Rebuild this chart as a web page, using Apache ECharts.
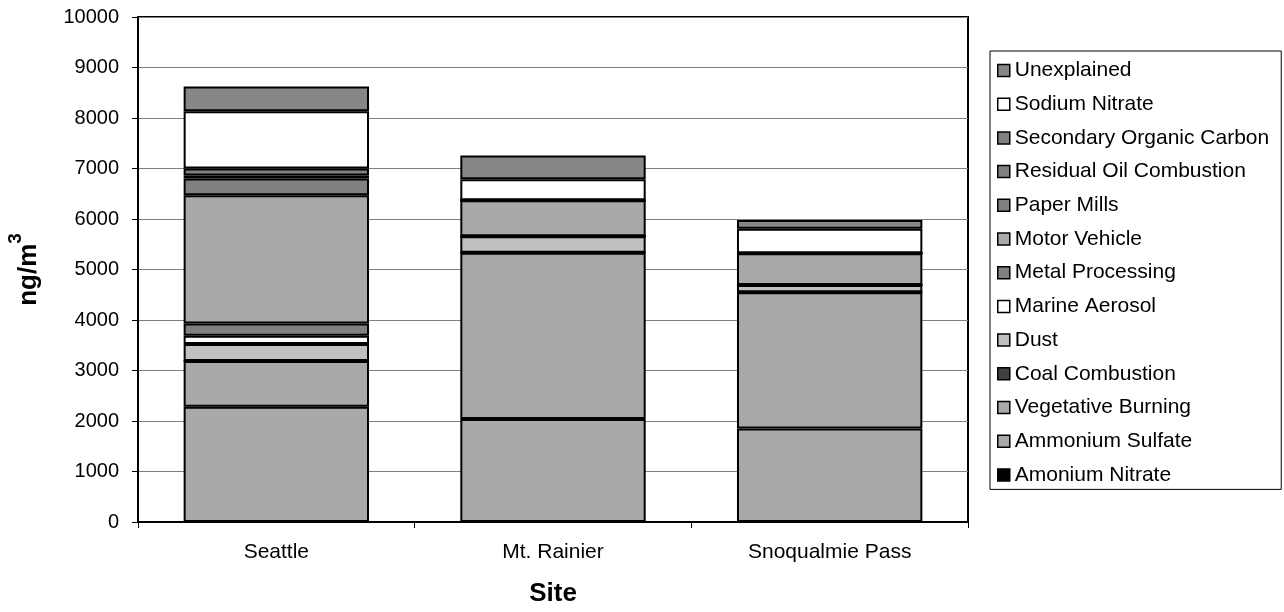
<!DOCTYPE html>
<html>
<head>
<meta charset="utf-8">
<script src="https://cdn.jsdelivr.net/npm/echarts@6/dist/echarts.min.js"></script>
<style>
html,body{margin:0;padding:0;background:#fff;}
#chart{width:1284px;height:612px;}
</style>
</head>
<body>
<div id="chart"></div>
<script>
var categories = ['Seattle', 'Mt. Rainier', 'Snoqualmie Pass'];
var seriesNames = ['Amonium Nitrate', 'Ammonium Sulfate', 'Vegetative Burning', 'Coal Combustion', 'Dust', 'Marine Aerosol', 'Metal Processing', 'Motor Vehicle', 'Paper Mills', 'Residual Oil Combustion', 'Secondary Organic Carbon', 'Sodium Nitrate', 'Unexplained'];
var amoniumNitrate = [0, 0, 0];
var ammoniumSulfate = [2280, 2040, 1850];
var vegetativeBurning = [910, 3290, 2700];
var coalCombustion = [0, 0, 0];
var dust = [335, 330, 145];
var marineAerosol = [165, 0, 0];
var metalProcessing = [240, 0, 0];
var motorVehicle = [2540, 710, 625];
var paperMills = [330, 0, 0];
var residualOil = [60, 0, 0];
var secondaryOrganicCarbon = [140, 0, 0];
var sodiumNitrate = [1135, 415, 485];
var unexplained = [490, 470, 175];
var yTicks = [0, 1000, 2000, 3000, 4000, 5000, 6000, 7000, 8000, 9000, 10000];

var seriesValues = [amoniumNitrate, ammoniumSulfate, vegetativeBurning, coalCombustion, dust, marineAerosol, metalProcessing, motorVehicle, paperMills, residualOil, secondaryOrganicCarbon, sodiumNitrate, unexplained];
var colors = ['#000000', '#a9a9a9', '#a9a9a9', '#404040', '#c0c0c0', '#ffffff', '#808080', '#a9a9a9', '#808080', '#808080', '#808080', '#ffffff', '#878787'];

var FONT = '"Liberation Sans", Arial, sans-serif';
var series = seriesNames.map(function (name, i) {
  return {
    name: name,
    type: 'bar',
    stack: 'total',
    barWidth: '67%',
    data: seriesValues[i],
    itemStyle: { color: colors[i], borderColor: '#000', borderWidth: 2 },
    emphasis: { disabled: true },
    animation: false
  };
});

var chart = echarts.init(document.getElementById('chart'), null, { renderer: 'canvas' });
chart.setOption({
  backgroundColor: '#fff',
  animation: false,
  textStyle: { fontFamily: FONT, color: '#000' },
  grid: { left: 138, right: 316, top: 17, bottom: 90, containLabel: false, outerBoundsMode: 'none', show: true, borderColor: '#000', borderWidth: 2, backgroundColor: 'transparent' },
  legend: {
    orient: 'vertical',
    left: 990,
    top: 51,
    data: seriesNames.slice().reverse(),
    icon: 'rect',
    itemWidth: 12,
    itemHeight: 12,
    itemGap: 12.7,
    padding: [9, 12, 4, 7],
    borderColor: '#000',
    borderWidth: 1,
    backgroundColor: '#fff',
    selectedMode: false,
    itemStyle: { borderColor: '#000', borderWidth: 1.5 },
    textStyle: { fontFamily: FONT, fontSize: 21, color: '#000', lineHeight: 21 }
  },
  xAxis: {
    type: 'category',
    data: categories,
    name: 'Site',
    nameLocation: 'middle',
    nameGap: 59,
    nameTextStyle: { fontFamily: FONT, fontSize: 26, fontWeight: 'bold', color: '#000' },
    axisLine: { lineStyle: { color: '#000', width: 2 } },
    axisTick: { show: true, length: 6, lineStyle: { color: '#000', width: 1 } },
    axisLabel: { fontFamily: FONT, fontSize: 21, color: '#000', margin: 20 }
  },
  yAxis: {
    type: 'value',
    min: 0,
    max: 10000,
    interval: 1000,
    name: '{a|ng/m}{s|3}',
    nameLocation: 'middle',
    nameRotate: 90,
    nameGap: 96,
    nameTextStyle: {
      rich: {
        a: { fontFamily: FONT, fontSize: 26, fontWeight: 'bold', color: '#000', verticalAlign: 'bottom', lineHeight: 36 },
        s: { fontFamily: FONT, fontSize: 19, fontWeight: 'bold', color: '#000', verticalAlign: 'top', lineHeight: 36 }
      }
    },
    axisLine: { show: true, lineStyle: { color: '#000', width: 2 } },
    axisTick: { show: true, length: 6, lineStyle: { color: '#000', width: 1 } },
    axisLabel: {
      fontFamily: FONT, fontSize: 20, color: '#000', margin: 19,
      formatter: function (v) { return yTicks.indexOf(v) >= 0 ? String(v) : ''; }
    },
    splitLine: { show: true, lineStyle: { color: '#808080', width: 1 } }
  },
  series: series
});
</script>
</body>
</html>
